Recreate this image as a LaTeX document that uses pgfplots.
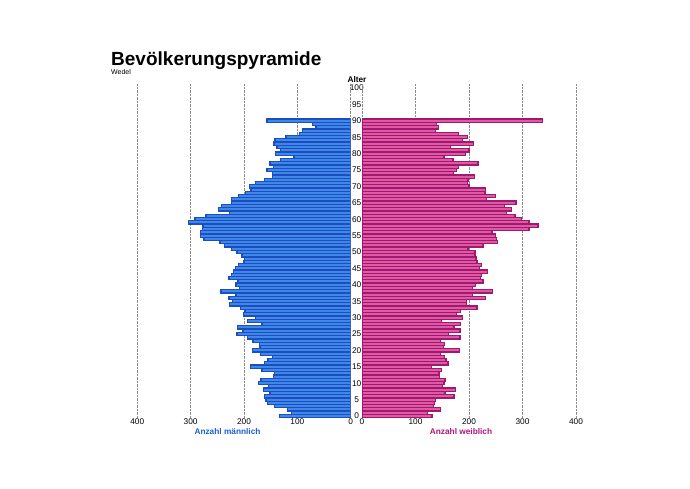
\documentclass[border=0pt]{standalone}
\usepackage{fontspec}
\setmainfont{Liberation Sans}
\usepackage{pgfplots}
\pgfplotsset{compat=1.18}
\usepackage{pgfplotstable}

\definecolor{mdark}{HTML}{1B4FBF}
\definecolor{mlight}{HTML}{3F87E8}
\definecolor{fdark}{HTML}{A3186F}
\definecolor{flight}{HTML}{DE5AA5}
\definecolor{mtext}{HTML}{1A5FD0}
\definecolor{ftext}{HTML}{B0157A}

\pgfplotstableread{
age m f
0 134 131
1 111 122
2 118 147
3 143 134
4 156 136
5 159 138
6 162 172
7 151 155
8 163 175
9 154 151
10 173 153
11 168 155
12 145 145
13 143 144
14 166 148
15 188 130
16 161 161
17 155 157
18 147 154
19 169 147
20 184 182
21 170 152
22 171 154
23 183 147
24 194 183
25 213 162
26 202 183
27 212 172
28 166 184
29 194 149
30 178 188
31 201 177
32 198 184
33 207 215
34 227 195
35 222 195
36 228 231
37 215 206
38 243 244
39 209 206
40 215 212
41 211 226
42 228 222
43 223 223
44 220 235
45 216 220
46 210 223
47 200 215
48 199 213
49 204 211
50 213 211
51 224 198
52 237 226
53 245 253
54 275 251
55 281 249
56 282 243
57 278 312
58 277 329
59 304 312
60 292 298
61 271 286
62 227 270
63 248 279
64 242 266
65 224 288
66 224 233
67 210 249
68 197 230
69 187 231
70 190 200
71 178 197
72 161 198
73 147 210
74 147 171
75 157 177
76 145 180
77 151 217
78 131 170
79 106 153
80 141 193
81 132 200
82 138 166
83 144 208
84 142 188
85 121 197
86 96 181
87 90 137
88 65 143
89 72 139
90 157 337
}\pop

\pgfplotsset{
  pyr/.style={
    scale only axis,
    height=334.56pt,
    ymin=-0.5, ymax=101.5,
    xmin=0, xmax=400,
    xtick={0,100,200,300,400},
    xmajorgrids,
    grid style={densely dotted, black!45, line width=0.5pt},
    axis line style={draw=none},
    major tick length=0pt,
    /pgf/number format/assume math mode=true,
    xticklabel style={font=\fontsize{8.3}{9}\selectfont, anchor=north, inner sep=0pt, yshift=-1.2pt},
  }
}

\begin{document}
\begin{tikzpicture}[x=1pt,y=1pt]
\path[use as bounding box] (0,0) rectangle (690,489);

\begin{axis}[pyr,
  at={(137.3pt,71.4pt)}, anchor=south west,
  width=213.4pt,
  x dir=reverse,
  ytick={0,5,...,100},
  yticklabel pos=right,
  yticklabel style={font=\fontsize{8.3}{9}\selectfont, anchor=center, xshift=6pt, inner sep=0pt},
]
\addplot[xbar, bar width=1, draw=mdark, fill=mlight, line width=1.3pt] table[x=m, y=age] {\pop};
\end{axis}

\begin{axis}[pyr,
  at={(362pt,71.4pt)}, anchor=south west,
  width=214pt,
  ytick=\empty,
]
\addplot[xbar, bar width=1, draw=fdark, fill=flight, line width=1.3pt] table[x=f, y=age] {\pop};
\end{axis}

\node[anchor=base west, inner sep=0pt, font=\fontsize{19}{21}\selectfont\bfseries] at (111,423) {Bevölkerungspyramide};
\node[anchor=base west, inner sep=0pt, font=\fontsize{7}{8}\selectfont] at (111,414.7) {Wedel};
\node[anchor=base, inner sep=0pt, font=\fontsize{8.3}{9}\selectfont\bfseries] at (357,406.3) {Alter};
\node[anchor=base, inner sep=0pt, font=\fontsize{8.3}{9}\selectfont\bfseries, text=mtext] at (227.5,54) {Anzahl männlich};
\node[anchor=base, inner sep=0pt, font=\fontsize{8.3}{9}\selectfont\bfseries, text=ftext] at (461,54) {Anzahl weiblich};
\end{tikzpicture}
\end{document}
